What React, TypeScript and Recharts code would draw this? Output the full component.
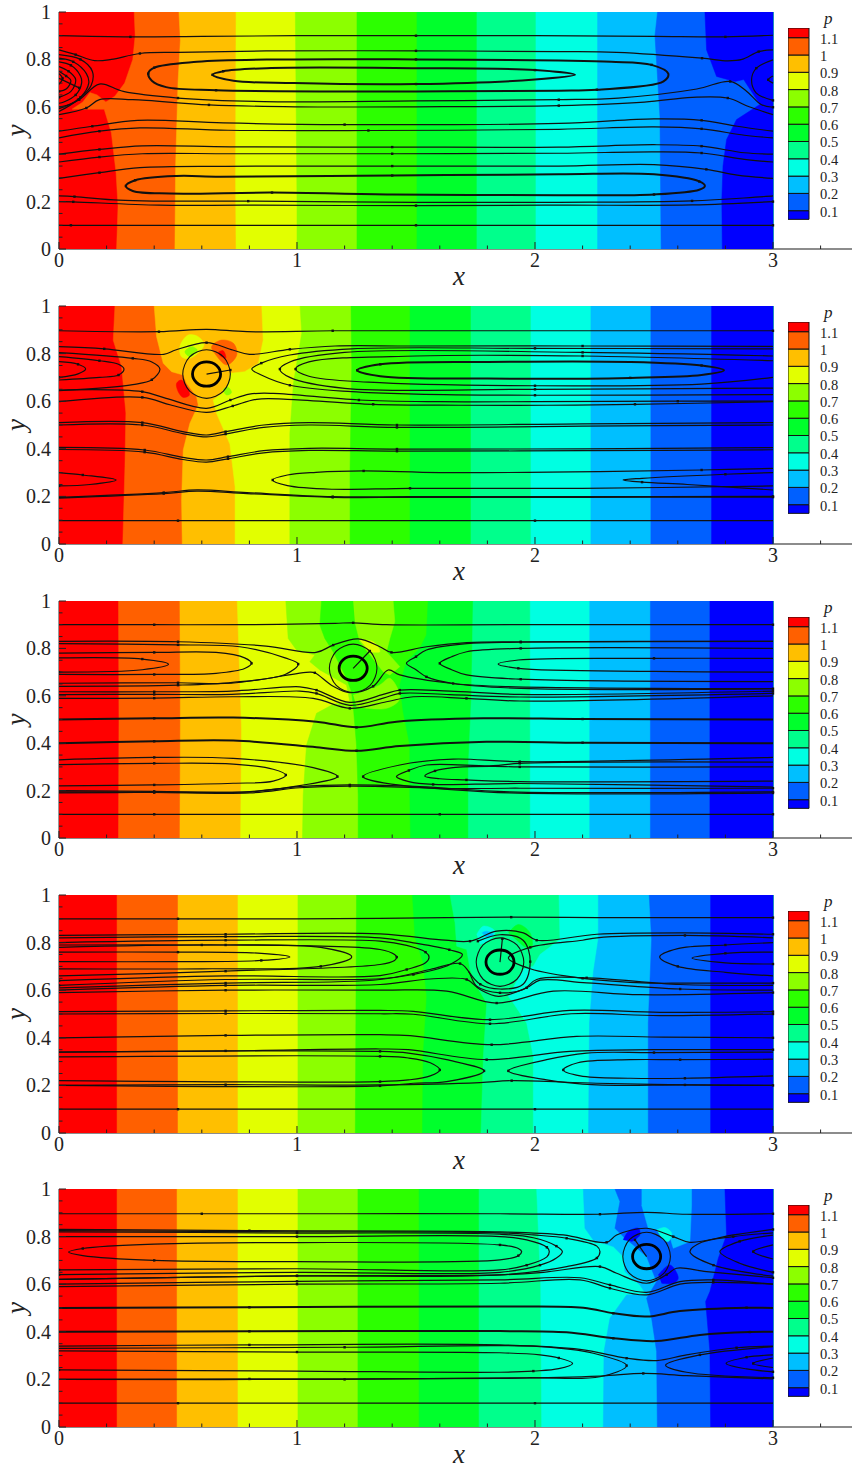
import React from "react";
import { ScatterChart, Scatter, XAxis, YAxis, BarChart, Bar } from "recharts";

type Pt = [number, number];
type Blob = { c: number; pts: Pt[] };

const bandColors = ["#ff0000", "#ff6000", "#ffbf00", "#e2ff00", "#8cff00", "#2cff00", "#00ff2c", "#00ff8c", "#00ffe2", "#00bfff", "#0060ff", "#0000ff"];
const legendLevels = [0.05, 0.05, 0.1, 0.1, 0.1, 0.1, 0.1, 0.1, 0.1, 0.1, 0.1, 0.1, 0.056];
const legendTicks = [0.1, 0.2, 0.3, 0.4, 0.5, 0.6, 0.7, 0.8, 0.9, 1, 1.1];
const xTicks = [0, 0.2, 0.4, 0.6, 0.8, 1, 1.2, 1.4, 1.6, 1.8, 2, 2.2, 2.4, 2.6, 2.8, 3, 3.2];
const yTicks = [0, 0.05, 0.1, 0.15, 0.2, 0.25, 0.3, 0.35, 0.4, 0.45, 0.5, 0.55, 0.6, 0.65, 0.7, 0.75, 0.8, 0.85, 0.9, 0.95, 1];
const ringShape: Pt[] = [[0.059, 0], [0.042, 0.036], [0, 0.051], [-0.042, 0.036], [-0.059, 0], [-0.042, -0.036], [0, -0.051], [0.042, -0.036], [0.059, 0]];
const haloShape: Pt[] = [[0.1, 0], [0.071, 0.072], [0, 0.102], [-0.071, 0.072], [-0.1, 0], [-0.071, -0.072], [0, -0.102], [0.071, -0.072], [0.1, 0]];

const p1Bounds: Pt[][] = [
  [[0.316, 1], [0.32, 0.9], [0.31, 0.8], [0.276, 0.7], [0.235, 0.645], [0.197, 0.62], [0.16, 0.65], [0.13, 0.66], [0.1, 0.62], [0.055, 0.59], [0.19, 0.59], [0.22, 0.49], [0.24, 0.32], [0.248, 0.18], [0.242, 0]],
  [[0.504, 1], [0.51, 0.88], [0.5, 0.7], [0.49, 0.35], [0.487, 0]],
  [[0.744, 1], [0.742, 0.3], [0.744, 0]],
  [[0.993, 1], [1, 0.2], [1, 0]],
  [[1.252, 1], [1.252, 0]],
  [[1.504, 1], [1.504, 0]],
  [[1.756, 1], [1.756, 0]],
  [[2.004, 1], [2.004, 0]],
  [[2.263, 1], [2.263, 0]],
  [[2.515, 1], [2.504, 0.9], [2.525, 0.56], [2.53, 0]],
  [[2.714, 1], [2.721, 0.84], [2.763, 0.728], [2.84, 0.707], [2.877, 0.715], [2.945, 0.61], [2.847, 0.546], [2.805, 0.462], [2.79, 0.35], [2.785, 0.21], [2.787, 0]],
];
const p1Blobs: Blob[] = [];
const p1Lines: Pt[][] = [
  [[0, 0.9], [0.3, 0.895], [0.6, 0.897], [1, 0.9], [1.5, 0.9], [2, 0.9], [2.5, 0.897], [2.8, 0.895], [3, 0.902]],
  [[0, 0.84], [0.07, 0.82], [0.15, 0.795], [0.22, 0.8], [0.34, 0.825], [0.5, 0.83], [0.87, 0.836], [1.5, 0.836], [2.1, 0.833], [2.343, 0.83], [2.702, 0.805], [2.81, 0.794], [2.87, 0.8], [2.94, 0.833], [3, 0.84]],
  [[0.375, 0.74], [0.4, 0.765], [0.58, 0.79], [0.944, 0.8], [1.5, 0.8], [2.1, 0.795], [2.32, 0.79], [2.49, 0.777], [2.56, 0.74], [2.54, 0.707], [2.26, 0.672], [2.1, 0.668], [1.5, 0.665], [0.66, 0.67], [0.45, 0.683], [0.39, 0.71], [0.375, 0.74]],
  [[0.645, 0.735], [0.69, 0.75], [0.873, 0.763], [1.5, 0.763], [2.0, 0.755], [2.168, 0.735], [2.0, 0.715], [1.5, 0.696], [0.986, 0.7], [0.733, 0.71], [0.645, 0.735]],
  [[0, 0.592], [0.085, 0.63], [0.17, 0.696], [0.27, 0.665], [0.5, 0.637], [0.86, 0.622], [1.5, 0.625], [2.1, 0.63], [2.35, 0.637], [2.68, 0.675], [2.82, 0.707], [2.89, 0.665], [2.95, 0.61], [3, 0.598]],
  [[0, 0.567], [0.115, 0.595], [0.17, 0.63], [0.31, 0.63], [0.63, 0.608], [1, 0.6], [1.5, 0.6], [2.1, 0.605], [2.46, 0.62], [2.66, 0.64], [2.81, 0.637], [2.9, 0.6], [3, 0.567]],
  [[0, 0.497], [0.14, 0.518], [0.33, 0.543], [0.69, 0.532], [1.2, 0.525], [2.1, 0.53], [2.5, 0.549], [2.7, 0.543], [2.85, 0.518], [3, 0.497]],
  [[0, 0.469], [0.17, 0.497], [0.34, 0.511], [0.71, 0.501], [1.3, 0.5], [2.1, 0.505], [2.5, 0.515], [2.7, 0.507], [2.88, 0.48], [3, 0.469]],
  [[0, 0.4], [0.17, 0.42], [0.35, 0.435], [0.72, 0.431], [1.4, 0.43], [2.1, 0.43], [2.5, 0.44], [2.7, 0.434], [2.88, 0.406], [3, 0.4]],
  [[0, 0.367], [0.17, 0.388], [0.35, 0.402], [0.72, 0.402], [1.4, 0.402], [2.1, 0.404], [2.5, 0.41], [2.7, 0.405], [2.88, 0.378], [3, 0.367]],
  [[0, 0.298], [0.17, 0.322], [0.34, 0.343], [0.7, 0.349], [1.4, 0.35], [2.1, 0.35], [2.5, 0.356], [2.72, 0.336], [2.85, 0.312], [3, 0.298]],
  [[0.281, 0.266], [0.32, 0.29], [0.494, 0.308], [0.677, 0.305], [1.4, 0.31], [2.1, 0.315], [2.5, 0.315], [2.69, 0.285], [2.714, 0.266], [2.69, 0.25], [2.5, 0.23], [2.1, 0.227], [1.4, 0.23], [0.895, 0.238], [0.466, 0.234], [0.31, 0.245], [0.281, 0.266]],
  [[0, 0.224], [0.065, 0.221], [0.25, 0.206], [0.42, 0.202], [0.795, 0.202], [1.5, 0.197], [2.1, 0.197], [2.66, 0.203], [3, 0.224]],
  [[0, 0.2], [0.06, 0.199], [0.42, 0.185], [0.79, 0.185], [1.5, 0.183], [2.1, 0.185], [2.66, 0.186], [3, 0.2]],
  [[0, 0.1], [0.05, 0.1], [0.42, 0.1], [0.8, 0.1], [1.5, 0.1], [2.1, 0.1], [2.7, 0.1], [3, 0.1]],
  [[0, 0.82], [0.09, 0.8], [0.14, 0.75], [0.135, 0.69], [0.08, 0.63], [0, 0.58]],
  [[0, 0.805], [0.06, 0.79], [0.115, 0.74], [0.125, 0.7], [0.09, 0.64], [0.03, 0.605], [0, 0.6]],
  [[0, 0.79], [0.05, 0.775], [0.09, 0.73], [0.095, 0.7], [0.07, 0.65], [0.02, 0.62], [0, 0.615]],
  [[0, 0.77], [0.04, 0.75], [0.07, 0.715], [0.05, 0.665], [0, 0.64]],
  [[0, 0.75], [0.03, 0.73], [0.05, 0.71], [0.03, 0.675], [0, 0.665]],
  [[0, 0.74], [0.015, 0.72], [0, 0.695]],
  [[0, 0.72], [0.085, 0.68]],
  [[3, 0.798], [2.93, 0.763], [2.91, 0.714], [2.93, 0.658], [3, 0.627]],
  [[3, 0.73], [2.98, 0.714], [3, 0.7]],
];
const p1Rings: Pt[] = [];

const p2Bounds: Pt[][] = [
  [[0.235, 1], [0.228, 0.856], [0.263, 0.745], [0.281, 0.55], [0.277, 0.325], [0.268, 0]],
  [[0.4, 1], [0.41, 0.871], [0.438, 0.759], [0.473, 0.724], [0.522, 0.71], [0.536, 0.675], [0.578, 0.619], [0.585, 0.584], [0.55, 0.507], [0.522, 0.395], [0.515, 0.185], [0.518, 0]],
  [[0.852, 1], [0.858, 0.857], [0.838, 0.759], [0.78, 0.724], [0.72, 0.717], [0.705, 0.647], [0.648, 0.605], [0.662, 0.549], [0.718, 0.42], [0.74, 0.24], [0.74, 0]],
  [[1.013, 1], [1.02, 0.885], [0.985, 0.675], [0.97, 0.465], [0.97, 0]],
  [[1.227, 1], [1.23, 0.745], [1.223, 0.325], [1.223, 0]],
  [[1.475, 1], [1.475, 0]],
  [[1.731, 1], [1.731, 0]],
  [[1.983, 1], [1.983, 0]],
  [[2.235, 1], [2.235, 0]],
  [[2.487, 1], [2.487, 0]],
  [[2.742, 1], [2.742, 0]],
];
const p2Blobs: Blob[] = [
  { c: 3, pts: [[0.508, 0.83], [0.543, 0.878], [0.585, 0.871], [0.609, 0.836], [0.55, 0.78], [0.515, 0.787], [0.508, 0.83]] },
  { c: 4, pts: [[0.529, 0.808], [0.557, 0.829], [0.581, 0.815], [0.55, 0.787], [0.529, 0.808]] },
  { c: 1, pts: [[0.641, 0.829], [0.683, 0.857], [0.733, 0.843], [0.747, 0.794], [0.705, 0.752], [0.655, 0.8], [0.641, 0.829]] },
  { c: 0, pts: [[0.669, 0.804], [0.69, 0.812], [0.701, 0.78], [0.683, 0.787], [0.669, 0.804]] },
  { c: 0, pts: [[0.494, 0.675], [0.515, 0.689], [0.548, 0.626], [0.522, 0.616], [0.501, 0.64], [0.494, 0.675]] },
  { c: 4, pts: [[0.69, 0.65], [0.711, 0.658], [0.725, 0.636], [0.704, 0.626], [0.69, 0.65]] },
];
const p2Lines: Pt[][] = [
  [[0, 0.896], [0.42, 0.892], [0.62, 0.902], [0.79, 0.892], [1.15, 0.896], [1.6, 0.896], [2.2, 0.896], [3, 0.896]],
  [[0, 0.829], [0.19, 0.82], [0.44, 0.797], [0.49, 0.815], [0.62, 0.846], [0.73, 0.815], [0.8, 0.797], [0.97, 0.818], [1.16, 0.832], [1.475, 0.832], [2.2, 0.832], [3, 0.83]],
  [[0, 0.804], [0.31, 0.78], [0.39, 0.765], [0.424, 0.735], [0.39, 0.69], [0.31, 0.67], [0, 0.644]],
  [[0, 0.787], [0.17, 0.77], [0.25, 0.755], [0.273, 0.735], [0.25, 0.71], [0.17, 0.7], [0, 0.689]],
  [[0, 0.766], [0.08, 0.755], [0.112, 0.735], [0.08, 0.715], [0, 0.7]],
  [[0.81, 0.735], [0.85, 0.76], [0.97, 0.794], [1.23, 0.82], [2, 0.822], [3, 0.82]],
  [[0.81, 0.735], [0.85, 0.71], [0.97, 0.667], [1.23, 0.64], [1.5, 0.63], [2, 0.625], [3, 0.628]],
  [[0.928, 0.735], [0.97, 0.765], [1.2, 0.805], [2.2, 0.805], [3, 0.79]],
  [[0.928, 0.735], [0.97, 0.7], [1.2, 0.654], [2, 0.65], [3, 0.655]],
  [[0.994, 0.735], [1.05, 0.765], [1.5, 0.79], [2.2, 0.79], [3, 0.77]],
  [[0.994, 0.735], [1.05, 0.705], [1.3, 0.68], [2, 0.665], [2.7, 0.672], [3, 0.7]],
  [[1.253, 0.73], [1.35, 0.755], [1.8, 0.765], [2.4, 0.765], [2.7, 0.75], [2.794, 0.73], [2.7, 0.71], [2.4, 0.698], [1.8, 0.695], [1.35, 0.705], [1.253, 0.73]],
  [[0, 0.647], [0.35, 0.64], [0.45, 0.612], [0.62, 0.57], [0.72, 0.605], [0.8, 0.63], [0.9, 0.633], [1.26, 0.605], [1.6, 0.598], [2, 0.598], [2.6, 0.6], [3, 0.6]],
  [[0, 0.598], [0.35, 0.616], [0.47, 0.584], [0.62, 0.553], [0.73, 0.58], [0.83, 0.608], [0.96, 0.608], [1.32, 0.587], [1.68, 0.583], [2.05, 0.583], [2.42, 0.587], [3, 0.598]],
  [[0, 0.51], [0.35, 0.51], [0.52, 0.472], [0.62, 0.458], [0.7, 0.472], [0.86, 0.5], [1.05, 0.51], [1.42, 0.5], [2.2, 0.505], [3, 0.51]],
  [[0, 0.5], [0.35, 0.5], [0.52, 0.464], [0.62, 0.45], [0.7, 0.462], [0.86, 0.49], [1.05, 0.5], [1.42, 0.49], [2.2, 0.495], [3, 0.5]],
  [[0, 0.406], [0.36, 0.395], [0.52, 0.364], [0.62, 0.353], [0.71, 0.367], [0.86, 0.392], [1.05, 0.402], [1.42, 0.399], [2.2, 0.4], [3, 0.405]],
  [[0, 0.397], [0.36, 0.386], [0.52, 0.355], [0.62, 0.344], [0.71, 0.358], [0.86, 0.383], [1.05, 0.393], [1.42, 0.39], [2.2, 0.392], [3, 0.396]],
  [[0, 0.3], [0.1, 0.29], [0.24, 0.269], [0.13, 0.25], [0, 0.244]],
  [[0.898, 0.269], [0.96, 0.29], [1.08, 0.301], [1.28, 0.307], [1.6, 0.3], [2.27, 0.304], [2.7, 0.311], [3, 0.318]],
  [[0.898, 0.269], [0.96, 0.245], [1.15, 0.23], [1.475, 0.234], [2.2, 0.234], [3, 0.244]],
  [[2.37, 0.269], [2.45, 0.276], [2.8, 0.293], [3, 0.3]],
  [[2.37, 0.269], [2.45, 0.26], [2.64, 0.25], [3, 0.227]],
  [[0, 0.196], [0.44, 0.216], [0.58, 0.227], [0.79, 0.216], [1.15, 0.199], [1.475, 0.199], [2.2, 0.199], [3, 0.2]],
  [[0, 0.193], [0.44, 0.212], [0.58, 0.222], [0.79, 0.212], [1.15, 0.196], [1.475, 0.196], [2.2, 0.196], [3, 0.197]],
  [[0, 0.098], [0.5, 0.098], [1, 0.098], [1.5, 0.098], [2, 0.098], [2.5, 0.098], [3, 0.098]],
  [[0.62, 0.714], [0.72, 0.731]],
];
const p2Rings: Pt[] = [[0.62, 0.714]];

const p3Bounds: Pt[][] = [
  [[0.25, 1], [0.252, 0.5], [0.25, 0]],
  [[0.508, 1], [0.51, 0.5], [0.508, 0]],
  [[0.749, 1], [0.767, 0.46], [0.763, 0]],
  [[0.953, 1], [0.963, 0.842], [0.998, 0.793], [1.075, 0.772], [1.054, 0.744], [1.096, 0.709], [1.208, 0.646], [1.222, 0.575], [1.152, 0.564], [1.082, 0.526], [1.04, 0.392], [1.026, 0.181], [1.023, 0]],
  [[1.103, 1], [1.096, 0.899], [1.117, 0.842], [1.152, 0.786], [1.208, 0.674], [1.229, 0.617], [1.236, 0.561], [1.25, 0.392], [1.257, 0.181], [1.257, 0]],
  [[1.551, 1], [1.544, 0.857], [1.516, 0.8], [1.46, 0.744], [1.432, 0.646], [1.446, 0.533], [1.474, 0.392], [1.474, 0.181], [1.477, 0]],
  [[1.74, 1], [1.733, 0.6], [1.72, 0.3], [1.72, 0]],
  [[1.98, 1], [1.98, 0]],
  [[2.23, 1], [2.23, 0]],
  [[2.485, 1], [2.485, 0]],
  [[2.735, 1], [2.735, 0]],
];
const p3Blobs: Blob[] = [
  { c: 4, pts: [[1.236, 1], [1.404, 1], [1.411, 0.913], [1.39, 0.842], [1.376, 0.786], [1.432, 0.723], [1.39, 0.688], [1.362, 0.702], [1.264, 0.828], [1.243, 0.913]] },
  { c: 4, pts: [[1.236, 0.603], [1.348, 0.646], [1.39, 0.674], [1.432, 0.589], [1.376, 0.547], [1.25, 0.554]] },
  { c: 3, pts: [[1.264, 0.835], [1.32, 0.828], [1.348, 0.786], [1.306, 0.786]] },
];
const p3Lines: Pt[][] = [
  [[0, 0.9], [0.4, 0.9], [0.8, 0.9], [1.16, 0.906], [1.236, 0.908], [1.376, 0.9], [1.9, 0.9], [3, 0.9]],
  [[0, 0.83], [0.5, 0.828], [0.87, 0.81], [1.08, 0.783], [1.152, 0.814], [1.257, 0.84], [1.348, 0.807], [1.397, 0.783], [1.544, 0.807], [1.713, 0.824], [1.94, 0.828], [3, 0.83]],
  [[0, 0.82], [0.5, 0.815], [0.76, 0.807], [0.95, 0.76], [1.005, 0.734], [0.95, 0.69], [0.73, 0.657], [0.5, 0.645], [0, 0.64]],
  [[0, 0.78], [0.4, 0.783], [0.66, 0.783], [0.78, 0.76], [0.809, 0.737], [0.78, 0.715], [0.66, 0.695], [0.4, 0.69], [0, 0.69]],
  [[0, 0.76], [0.35, 0.755], [0.46, 0.733], [0.35, 0.71], [0, 0.7]],
  [[1.46, 0.737], [1.5, 0.765], [1.544, 0.793], [1.713, 0.82], [1.94, 0.826], [3, 0.83]],
  [[1.46, 0.737], [1.5, 0.71], [1.544, 0.68], [1.656, 0.652], [1.94, 0.631], [3, 0.63]],
  [[1.6, 0.737], [1.65, 0.765], [1.713, 0.786], [1.94, 0.8], [3, 0.8]],
  [[1.6, 0.737], [1.65, 0.71], [1.713, 0.688], [1.94, 0.67], [3, 0.66]],
  [[1.845, 0.734], [1.93, 0.751], [2.5, 0.758], [3, 0.758]],
  [[1.845, 0.734], [1.93, 0.716], [2.5, 0.703], [3, 0.7]],
  [[0, 0.653], [0.5, 0.655], [0.725, 0.653], [1.054, 0.7], [1.075, 0.697], [1.152, 0.64], [1.222, 0.613], [1.32, 0.64], [1.383, 0.709], [1.432, 0.688], [1.656, 0.652], [1.88, 0.639], [3, 0.63]],
  [[0, 0.617], [0.4, 0.617], [0.725, 0.62], [1.012, 0.638], [1.082, 0.624], [1.222, 0.572], [1.362, 0.606], [1.432, 0.624], [1.642, 0.62], [1.936, 0.606], [3, 0.62]],
  [[0, 0.605], [0.4, 0.606], [0.725, 0.606], [1.012, 0.62], [1.082, 0.61], [1.222, 0.56], [1.362, 0.59], [1.432, 0.61], [1.642, 0.605], [1.936, 0.595], [3, 0.61]],
  [[0, 0.589], [0.4, 0.59], [0.732, 0.596], [1.068, 0.589], [1.222, 0.547], [1.376, 0.575], [1.488, 0.596], [1.712, 0.589], [1.936, 0.578], [3, 0.6]],
  [[0, 0.5], [0.4, 0.505], [0.732, 0.508], [1.082, 0.491], [1.25, 0.467], [1.418, 0.491], [1.782, 0.505], [2.2, 0.502], [3, 0.5]],
  [[0, 0.4], [0.4, 0.408], [0.732, 0.411], [1.082, 0.383], [1.25, 0.368], [1.432, 0.388], [1.796, 0.406], [2.2, 0.402], [3, 0.4]],
  [[0, 0.31], [0.4, 0.315], [0.732, 0.312], [0.9, 0.29], [0.953, 0.266], [0.9, 0.24], [0.732, 0.231], [0.4, 0.224], [0, 0.22]],
  [[0, 0.33], [0.4, 0.34], [0.732, 0.336], [1.068, 0.297], [1.17, 0.259], [1.012, 0.221], [0.802, 0.196], [0.4, 0.193], [0, 0.19]],
  [[1.278, 0.259], [1.432, 0.308], [1.656, 0.333], [1.936, 0.322], [3, 0.34]],
  [[1.278, 0.259], [1.516, 0.214], [1.936, 0.21], [3, 0.21]],
  [[1.418, 0.259], [1.47, 0.285], [1.544, 0.308], [1.824, 0.305], [1.936, 0.315], [3, 0.32]],
  [[1.418, 0.259], [1.47, 0.238], [1.572, 0.226], [1.936, 0.23], [3, 0.215]],
  [[1.537, 0.261], [1.58, 0.283], [1.656, 0.297], [1.824, 0.302], [1.936, 0.3], [3, 0.3]],
  [[1.537, 0.261], [1.6, 0.25], [1.712, 0.245], [1.936, 0.238], [3, 0.24]],
  [[0, 0.2], [0.4, 0.197], [0.802, 0.195], [1.012, 0.217], [1.222, 0.224], [1.516, 0.217], [1.894, 0.195], [3, 0.195]],
  [[0, 0.195], [0.4, 0.192], [0.802, 0.19], [1.012, 0.212], [1.222, 0.219], [1.516, 0.212], [1.894, 0.19], [3, 0.19]],
  [[0, 0.1], [0.4, 0.1], [0.8, 0.1], [1.2, 0.1], [1.6, 0.1], [2, 0.1], [2.5, 0.1], [3, 0.1]],
  [[1.236, 0.716], [1.306, 0.789]],
];
const p3Rings: Pt[] = [[1.236, 0.716]];

const p4Bounds: Pt[][] = [
  [[0.244, 1], [0.244, 0]],
  [[0.5, 1], [0.5, 0]],
  [[0.752, 1], [0.752, 0]],
  [[1.004, 1], [1.004, 0]],
  [[1.25, 1], [1.245, 0]],
  [[1.485, 1], [1.496, 0.82], [1.53, 0.717], [1.545, 0.574], [1.53, 0.322], [1.527, 0]],
  [[1.643, 1], [1.664, 0.883], [1.671, 0.785], [1.713, 0.771], [1.727, 0.687], [1.755, 0.617], [1.797, 0.546], [1.783, 0.322], [1.773, 0]],
  [[2.101, 1], [2.105, 0.813], [2.021, 0.75], [1.993, 0.701], [1.951, 0.687], [1.888, 0.574], [1.909, 0.546], [1.965, 0.462], [1.993, 0.322], [1.993, 0]],
  [[2.266, 1], [2.266, 0.813], [2.245, 0.673], [2.229, 0.462], [2.225, 0]],
  [[2.48, 1], [2.49, 0.813], [2.476, 0.462], [2.476, 0]],
  [[2.738, 1], [2.738, 0]],
];
const p4Blobs: Blob[] = [
  { c: 6, pts: [[1.888, 0.841], [1.93, 0.876], [1.979, 0.841], [1.986, 0.778], [1.951, 0.785]] },
  { c: 8, pts: [[1.755, 0.834], [1.783, 0.869], [1.832, 0.848], [1.811, 0.813], [1.769, 0.792]] },
  { c: 9, pts: [[1.776, 0.841], [1.797, 0.848], [1.825, 0.834], [1.797, 0.82]] },
];
const p4Lines: Pt[][] = [
  [[0, 0.9], [0.5, 0.9], [1, 0.9], [1.349, 0.902], [1.9, 0.907], [2.26, 0.905], [2.63, 0.905], [3, 0.905]],
  [[0, 0.83], [0.7, 0.835], [1.349, 0.837], [1.622, 0.81], [1.727, 0.806], [1.839, 0.848], [1.951, 0.841], [2.007, 0.81], [2.26, 0.835], [2.63, 0.841], [3, 0.835]],
  [[0, 0.82], [0.7, 0.825], [1.349, 0.82], [1.489, 0.799], [1.64, 0.77], [1.695, 0.75], [1.643, 0.708], [1.489, 0.666], [1.349, 0.648], [0.7, 0.645], [0, 0.62]],
  [[0, 0.8], [0.7, 0.81], [1.349, 0.806], [1.461, 0.788], [1.54, 0.76], [1.555, 0.739], [1.54, 0.715], [1.461, 0.687], [1.349, 0.661], [0.7, 0.66], [0, 0.64]],
  [[0, 0.79], [0.6, 0.79], [1.1, 0.78], [1.23, 0.74], [1.1, 0.7], [0.6, 0.69], [0, 0.69]],
  [[0, 0.76], [0.5, 0.76], [0.85, 0.755], [0.97, 0.74], [0.85, 0.725], [0.5, 0.72], [0, 0.72]],
  [[0, 0.78], [0.7, 0.79], [1.349, 0.771], [1.41, 0.75], [1.419, 0.739], [1.41, 0.725], [1.349, 0.708], [0.7, 0.68], [0, 0.66]],
  [[1.888, 0.735], [1.98, 0.78], [2.2, 0.81], [2.26, 0.82], [2.63, 0.83], [3, 0.82]],
  [[1.888, 0.735], [1.98, 0.69], [2.2, 0.65], [2.48, 0.63], [2.63, 0.63], [3, 0.63]],
  [[2.524, 0.74], [2.6, 0.775], [2.8, 0.79], [3, 0.8]],
  [[2.524, 0.74], [2.6, 0.7], [2.8, 0.675], [3, 0.66]],
  [[2.66, 0.735], [2.8, 0.755], [3, 0.76]],
  [[2.66, 0.735], [2.8, 0.715], [3, 0.71]],
  [[0, 0.61], [0.7, 0.63], [1.349, 0.645], [1.559, 0.687], [1.685, 0.712], [1.72, 0.68], [1.755, 0.617], [1.853, 0.589], [1.951, 0.603], [2.007, 0.645], [2.217, 0.652], [2.61, 0.624], [3, 0.62]],
  [[0, 0.6], [0.7, 0.62], [1.349, 0.624], [1.559, 0.647], [1.713, 0.645], [1.769, 0.603], [1.846, 0.574], [1.965, 0.61], [2.021, 0.642], [2.217, 0.631], [2.61, 0.605], [3, 0.6]],
  [[0, 0.59], [0.7, 0.6], [1.349, 0.6], [1.629, 0.596], [1.839, 0.546], [2.077, 0.596], [2.441, 0.581], [3, 0.59]],
  [[0, 0.51], [0.7, 0.513], [1.349, 0.515], [1.489, 0.511], [1.811, 0.476], [2.147, 0.515], [2.525, 0.507], [3, 0.51]],
  [[0, 0.5], [0.7, 0.502], [1.349, 0.501], [1.489, 0.499], [1.811, 0.459], [2.153, 0.501], [2.525, 0.493], [3, 0.5]],
  [[0, 0.4], [0.7, 0.41], [1.349, 0.413], [1.475, 0.409], [1.818, 0.371], [2.175, 0.406], [2.539, 0.403], [3, 0.4]],
  [[0, 0.34], [0.7, 0.345], [1.349, 0.353], [1.468, 0.35], [1.797, 0.308], [2.147, 0.343], [2.504, 0.35], [3, 0.35]],
  [[1.888, 0.261], [2.049, 0.308], [2.217, 0.336], [2.5, 0.338], [3, 0.34]],
  [[1.888, 0.261], [2.049, 0.223], [2.259, 0.202], [2.63, 0.202], [3, 0.2]],
  [[1.786, 0.261], [1.629, 0.308], [1.468, 0.336], [1.349, 0.343], [0, 0.34]],
  [[1.786, 0.261], [1.629, 0.216], [1.489, 0.209], [1.349, 0.198], [0, 0.2]],
  [[1.6, 0.265], [1.56, 0.295], [1.468, 0.315], [1.349, 0.322], [0, 0.32]],
  [[1.6, 0.265], [1.56, 0.24], [1.468, 0.223], [1.349, 0.216], [0, 0.22]],
  [[2.119, 0.265], [2.18, 0.295], [2.4, 0.308], [2.61, 0.308], [3, 0.31]],
  [[2.119, 0.265], [2.19, 0.24], [2.4, 0.23], [2.63, 0.23], [3, 0.24]],
  [[0, 0.2], [0.7, 0.203], [1.349, 0.202], [1.769, 0.212], [1.902, 0.22], [2.259, 0.209], [2.63, 0.202], [3, 0.2]],
  [[0, 0.1], [0.5, 0.1], [1, 0.1], [1.5, 0.1], [2, 0.1], [2.5, 0.1], [3, 0.1]],
  [[1.853, 0.718], [1.863, 0.816]],
  [[1.72, 0.68], [1.77, 0.625], [1.853, 0.605], [1.95, 0.625], [1.98, 0.72], [1.95, 0.81], [1.853, 0.833], [1.76, 0.806]],
];
const p4Rings: Pt[] = [[1.853, 0.718]];

const p5Bounds: Pt[][] = [
  [[0.244, 1], [0.244, 0]],
  [[0.496, 1], [0.496, 0]],
  [[0.752, 1], [0.752, 0]],
  [[1.004, 1], [1.004, 0]],
  [[1.256, 1], [1.256, 0]],
  [[1.513, 1], [1.513, 0]],
  [[1.765, 1], [1.765, 0]],
  [[2.007, 1], [2.024, 0.597], [2.028, 0]],
  [[2.203, 1], [2.21, 0.835], [2.245, 0.786], [2.329, 0.758], [2.371, 0.716], [2.378, 0.653], [2.441, 0.597], [2.469, 0.555], [2.385, 0.555], [2.315, 0.457], [2.29, 0.317], [2.287, 0]],
  [[2.336, 1], [2.357, 0.947], [2.336, 0.835], [2.378, 0.793], [2.413, 0.765], [2.469, 0.716], [2.511, 0.611], [2.469, 0.541], [2.49, 0.457], [2.511, 0.317], [2.514, 0]],
  [[2.798, 1], [2.805, 0.807], [2.77, 0.708], [2.735, 0.569], [2.717, 0.527], [2.735, 0.317], [2.738, 0]],
];
const p5Blobs: Blob[] = [
  { c: 9, pts: [[2.448, 1], [2.658, 1], [2.658, 0.933], [2.651, 0.779], [2.581, 0.751], [2.56, 0.821], [2.476, 0.835], [2.448, 0.933]] },
  { c: 8, pts: [[2.511, 0.828], [2.546, 0.838], [2.574, 0.814], [2.56, 0.779], [2.532, 0.793]] },
  { c: 11, pts: [[2.371, 0.786], [2.392, 0.821], [2.434, 0.835], [2.441, 0.807], [2.406, 0.779]] },
  { c: 11, pts: [[2.518, 0.639], [2.567, 0.681], [2.602, 0.625], [2.581, 0.604], [2.532, 0.604]] },
];
const p5Lines: Pt[][] = [
  [[0, 0.896], [0.6, 0.896], [1.2, 0.896], [1.853, 0.896], [2.273, 0.894], [2.469, 0.902], [2.637, 0.894], [3, 0.896]],
  [[0, 0.83], [0.8, 0.825], [1.853, 0.82], [2.119, 0.807], [2.301, 0.776], [2.343, 0.807], [2.469, 0.835], [2.581, 0.8], [2.651, 0.776], [2.833, 0.807], [3, 0.83]],
  [[0, 0.825], [1, 0.82], [1.853, 0.816], [1.993, 0.807], [2.133, 0.793], [2.26, 0.76], [2.273, 0.737], [2.26, 0.71], [2.133, 0.674], [1.853, 0.639], [1, 0.635], [0, 0.62]],
  [[0, 0.82], [1, 0.815], [1.853, 0.81], [1.993, 0.795], [2.09, 0.76], [2.115, 0.737], [2.09, 0.71], [2.021, 0.68], [1.853, 0.65], [1, 0.65], [0, 0.64]],
  [[0, 0.8], [1, 0.8], [1.853, 0.8], [1.965, 0.786], [2.05, 0.755], [2.06, 0.737], [2.05, 0.715], [1.965, 0.68], [1.853, 0.66], [1, 0.665], [0, 0.66]],
  [[0.04, 0.735], [0.1, 0.75], [0.4, 0.768], [1, 0.775], [1.853, 0.765], [1.93, 0.75], [1.944, 0.737], [1.93, 0.72], [1.853, 0.702], [1, 0.695], [0.4, 0.7], [0.1, 0.72], [0.04, 0.735]],
  [[2.651, 0.737], [2.7, 0.776], [2.833, 0.8], [3, 0.816]],
  [[2.651, 0.737], [2.75, 0.68], [2.945, 0.641], [3, 0.634]],
  [[2.777, 0.737], [2.86, 0.78], [3, 0.806]],
  [[2.777, 0.737], [2.86, 0.688], [3, 0.65]],
  [[2.917, 0.737], [3, 0.765]],
  [[2.917, 0.737], [3, 0.706]],
  [[0, 0.62], [1, 0.635], [1.853, 0.639], [2.035, 0.65], [2.273, 0.674], [2.343, 0.646], [2.469, 0.604], [2.553, 0.64], [2.595, 0.667], [2.721, 0.653], [3, 0.627]],
  [[0, 0.6], [1, 0.612], [1.853, 0.618], [2.189, 0.627], [2.315, 0.597], [2.469, 0.566], [2.609, 0.611], [2.749, 0.618], [3, 0.6]],
  [[0, 0.59], [1, 0.6], [1.853, 0.604], [2.189, 0.618], [2.315, 0.583], [2.469, 0.555], [2.609, 0.6], [2.749, 0.608], [3, 0.6]],
  [[0, 0.5], [0.8, 0.503], [1.853, 0.506], [2.203, 0.501], [2.329, 0.478], [2.469, 0.464], [2.609, 0.487], [2.889, 0.501], [3, 0.5]],
  [[0, 0.4], [0.8, 0.402], [1.853, 0.403], [2.133, 0.398], [2.329, 0.373], [2.511, 0.361], [2.693, 0.387], [2.903, 0.399], [3, 0.4]],
  [[0, 0.34], [0.8, 0.345], [1.853, 0.345], [2.189, 0.326], [2.385, 0.289], [2.511, 0.279], [2.637, 0.303], [2.847, 0.333], [3, 0.34]],
  [[2.385, 0.258], [2.245, 0.31], [2.021, 0.338], [1.2, 0.335], [0, 0.33]],
  [[2.385, 0.258], [2.273, 0.211], [1.965, 0.207], [1.2, 0.2], [0, 0.2]],
  [[2.158, 0.267], [2.1, 0.29], [2.021, 0.303], [1.853, 0.312], [1, 0.315], [0, 0.32]],
  [[2.158, 0.267], [2.1, 0.245], [1.993, 0.235], [1.853, 0.23], [1, 0.235], [0, 0.24]],
  [[2.549, 0.26], [2.693, 0.303], [3, 0.338]],
  [[2.549, 0.26], [2.637, 0.23], [3, 0.207]],
  [[2.803, 0.267], [2.889, 0.293], [3, 0.303]],
  [[2.803, 0.267], [2.889, 0.244], [3, 0.232]],
  [[2.917, 0.267], [3, 0.29]],
  [[2.917, 0.267], [3, 0.25]],
  [[0, 0.2], [0.8, 0.202], [1.853, 0.204], [2.273, 0.214], [2.455, 0.225], [2.637, 0.216], [3, 0.202]],
  [[0, 0.1], [0.5, 0.1], [1, 0.1], [1.5, 0.1], [2, 0.1], [2.5, 0.1], [3, 0.1]],
  [[2.469, 0.716], [2.42, 0.786]],
];
const p5Rings: Pt[] = [[2.469, 0.716]];

// Two branches that leave the same tip form one streamline.
const joinTips = (lines: Pt[][]): Pt[][] => {
  const out: Pt[][] = [];
  for (let i = 0; i < lines.length; i++) {
    const a = lines[i];
    const b = lines[i + 1];
    if (b && a[0][0] === b[0][0] && a[0][1] === b[0][1]) {
      out.push([...[...a].reverse(), ...b.slice(1)]);
      i++;
    } else out.push(a);
  }
  return out;
};

const heavyLines = new Set<Pt[]>([p1Lines[2], p1Lines[3], p1Lines[11], p2Lines[11], p3Lines[15], p3Lines[16], p5Lines[15], p5Lines[16]]);

const panels = [
  { top: 12, h: 237, bounds: p1Bounds, blobs: p1Blobs, lines: joinTips(p1Lines), rings: p1Rings },
  { top: 306, h: 238, bounds: p2Bounds, blobs: p2Blobs, lines: joinTips(p2Lines), rings: p2Rings },
  { top: 601, h: 237, bounds: p3Bounds, blobs: p3Blobs, lines: joinTips(p3Lines), rings: p3Rings },
  { top: 895, h: 238, bounds: p4Bounds, blobs: p4Blobs, lines: joinTips(p4Lines), rings: p4Rings },
  { top: 1189, h: 238, bounds: p5Bounds, blobs: p5Blobs, lines: joinTips(p5Lines), rings: p5Rings },
];

// Centripetal Catmull-Rom curve through the streamline's points, closed when it returns to its start.
const smoothCurve = (ctx: any) => {
  let pts: Pt[] = [];
  return {
    areaStart() {},
    areaEnd() {},
    lineStart() {
      pts = [];
    },
    point(x: number, y: number) {
      pts.push([+x, +y]);
    },
    lineEnd() {
      const n = pts.length;
      if (!n) return;
      ctx.moveTo(pts[0][0], pts[0][1]);
      const closed = n > 3 && Math.abs(pts[0][0] - pts[n - 1][0]) < 0.01 && Math.abs(pts[0][1] - pts[n - 1][1]) < 0.01;
      for (let i = 0; i < n - 1; i++) {
        const p1 = pts[i];
        const p2 = pts[i + 1];
        const p0 = i > 0 ? pts[i - 1] : closed ? pts[n - 2] : p1;
        const p3 = i + 2 < n ? pts[i + 2] : closed ? pts[1] : p2;
        const d01 = Math.hypot(p1[0] - p0[0], p1[1] - p0[1]);
        const d12 = Math.hypot(p2[0] - p1[0], p2[1] - p1[1]);
        const d23 = Math.hypot(p3[0] - p2[0], p3[1] - p2[1]);
        const a01 = Math.sqrt(d01);
        const a12 = Math.sqrt(d12);
        const a23 = Math.sqrt(d23);
        let c1x = p1[0];
        let c1y = p1[1];
        let c2x = p2[0];
        let c2y = p2[1];
        if (a01 > 1e-6) {
          const a = 2 * d01 + 3 * a01 * a12 + d12;
          const m = 3 * a01 * (a01 + a12);
          c1x = (p1[0] * a - p0[0] * d12 + p2[0] * d01) / m;
          c1y = (p1[1] * a - p0[1] * d12 + p2[1] * d01) / m;
        }
        if (a23 > 1e-6) {
          const b = 2 * d23 + 3 * a23 * a12 + d12;
          const m = 3 * a23 * (a23 + a12);
          c2x = (p2[0] * b + p1[0] * d23 - p3[0] * d12) / m;
          c2y = (p2[1] * b + p1[1] * d23 - p3[1] * d12) / m;
        }
        ctx.bezierCurveTo(c1x, c1y, c2x, c2y, p2[0], p2[1]);
      }
    },
  };
};

const SERIF = "Liberation Serif";
const rows = (pts: Pt[]) => pts.map(([x, y], i) => ({ x, y, mark: i % 3 === 1 }));
const NoShape = () => null;
const Arrow = (props: any) =>
  props.payload?.mark ? <rect x={props.cx - 1.2} y={props.cy - 1.2} width={2.4} height={2.4} fill="#111" /> : null;

const fullRect: Pt[] = [[0, 0], [3, 0], [3, 1], [0, 1]];
const regionRightOf = (b: Pt[]): Pt[] => [...b, [3, 0], [3, 1]];

const XTick = (props: any) => {
  const { x, y, payload } = props;
  const major = Number.isInteger(payload.value);
  return (
    <g>
      <line x1={x} x2={x} y1={y} y2={y - (major ? 7 : 3.5)} stroke="#222" strokeWidth={1} />
      {major && payload.value <= 3 ? (
        <text x={x} y={y + 18} textAnchor="middle" fontFamily={SERIF} fontSize={20} fill="#222">{payload.value}</text>
      ) : null}
    </g>
  );
};
const YTick = (props: any) => {
  const { x, y, payload } = props;
  const v = Math.round(payload.value * 100);
  const major = v % 20 === 0;
  return (
    <g>
      <line x1={x} x2={x + (major ? 7 : 3.5)} y1={y} y2={y} stroke="#222" strokeWidth={1} />
      {major ? (
        <text x={x - 8} y={y + 7} textAnchor="end" fontFamily={SERIF} fontSize={20} fill="#222">{payload.value}</text>
      ) : null}
    </g>
  );
};
const LegendTick = (props: any) => {
  const { x, y, payload } = props;
  return (
    <text x={x + 11} y={y + 6} fontFamily={SERIF} fontSize={14.5} fill="#222">{payload.value}</text>
  );
};
const XTitle = (props: any) => {
  const vb = props.viewBox;
  return <text x={459} y={vb.y + 36} textAnchor="middle" fontFamily={SERIF} fontStyle="italic" fontSize={27} fill="#222">x</text>;
};
const YTitle = (props: any) => {
  const vb = props.viewBox;
  const cy = vb.y + vb.height / 2;
  return <text x={25} y={cy} transform={`rotate(-90 25 ${cy})`} textAnchor="middle" fontFamily={SERIF} fontStyle="italic" fontSize={27} fill="#222">y</text>;
};

const legendRow = [
  legendLevels.reduce((acc: any, v, i) => {
    acc["k" + i] = v;
    return acc;
  }, { name: "p" }),
];
const legendFill = [...bandColors].reverse();

function Legend() {
  return (
    <BarChart width={64} height={224} data={legendRow} margin={{ top: 20, right: 0, bottom: 4, left: 0 }} barCategoryGap={0}>
      <XAxis dataKey="name" hide />
      <YAxis orientation="right" width={43} type="number" domain={[0, 1.156]} ticks={legendTicks} interval={0} axisLine={false} tickLine={false} tickSize={0} tickMargin={0} tick={LegendTick} allowDataOverflow />
      {legendLevels.map((_, i) => (
        <Bar
          key={i}
          dataKey={"k" + i}
          stackId="p"
          isAnimationActive={false}
          fill={i === 0 ? "none" : legendFill[i - 1]}
          stroke={i === 0 ? "none" : "#111"}
          strokeWidth={1}
        />
      ))}
      <text x={36} y={16} fontFamily={SERIF} fontStyle="italic" fontSize={17} fill="#222">p</text>
    </BarChart>
  );
}

function Panel({ p }: { p: (typeof panels)[number] }) {
  return (
    <ScatterChart width={852} height={p.h + 57} margin={{ top: 12, right: 0, bottom: 0, left: 0 }}>
      <Scatter data={rows(fullRect)} shape={NoShape} isAnimationActive={false} line={{ fill: bandColors[0], stroke: bandColors[0] }} lineType="joint" />
      {p.bounds.map((b, i) => (
        <Scatter key={"b" + i} data={rows(regionRightOf(b))} shape={NoShape} isAnimationActive={false} line={{ fill: bandColors[i + 1], stroke: bandColors[i + 1], strokeWidth: 0.5 }} lineType="joint" />
      ))}
      {p.blobs.map((b, i) => (
        <Scatter key={"o" + i} data={rows(b.pts)} shape={NoShape} isAnimationActive={false} line={{ fill: bandColors[b.c], stroke: bandColors[b.c], strokeWidth: 0.5 }} lineType="joint" lineJointType={b.pts.some((q) => q[1] >= 1) ? "linear" : (smoothCurve as any)} />
      ))}
      {p.lines.map((l, i) => (
        <Scatter key={"l" + i} data={rows(l)} shape={Arrow} isAnimationActive={false} line={{ stroke: "#111", strokeWidth: heavyLines.has(l) ? 2 : 1.2, fill: "none" }} lineType="joint" lineJointType={smoothCurve as any} />
      ))}
      {p.rings.map((c, i) => (
        <Scatter key={"r" + i} data={rows(ringShape.map(([dx, dy]) => [c[0] + dx, c[1] + dy] as Pt))} shape={NoShape} isAnimationActive={false} line={{ stroke: "#000", strokeWidth: 2.8, fill: "none" }} lineType="joint" lineJointType={smoothCurve as any} />
      ))}
      {p.rings.map((c, i) => (
        <Scatter key={"h" + i} data={rows(haloShape.map(([dx, dy]) => [c[0] + dx, c[1] + dy] as Pt))} shape={NoShape} isAnimationActive={false} line={{ stroke: "#111", strokeWidth: 1.1, fill: "none" }} lineType="joint" lineJointType={smoothCurve as any} />
      ))}
      <XAxis
        type="number"
        dataKey="x"
        domain={[0, 3.332]}
        ticks={xTicks}
        interval={0}
        height={45}
        tickLine={false}
        tickSize={0}
        tickMargin={0}
        tick={XTick}
        axisLine={{ stroke: "#666", strokeWidth: 1.6 }}
        allowDataOverflow
        label={{ value: "x", content: XTitle }}
      />
      <YAxis
        type="number"
        dataKey="y"
        domain={[0, 1]}
        ticks={yTicks}
        interval={0}
        width={59}
        tickLine={false}
        tickSize={0}
        tickMargin={0}
        tick={YTick}
        axisLine={{ stroke: "#333", strokeWidth: 1 }}
        allowDataOverflow
        label={{ value: "y", content: YTitle }}
      />
    </ScatterChart>
  );
}

export default function App() {
  return (
    <div style={{ position: "absolute", left: 0, top: 0, width: 852, height: 1466, overflow: "hidden", background: "#fff" }}>
      {panels.map((p, i) => (
        <React.Fragment key={i}>
          <div style={{ position: "absolute", left: 0, top: p.top - 12 }}>
            <Panel p={p} />
          </div>
          <div style={{ position: "absolute", left: 788, top: p.top - 4 }}>
            <Legend />
          </div>
        </React.Fragment>
      ))}
    </div>
  );
}
